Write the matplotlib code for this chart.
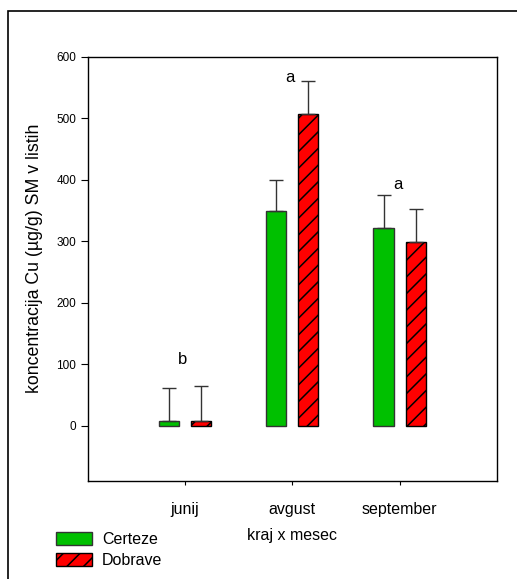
import matplotlib.pyplot as plt
import matplotlib.patches as mpatches
import numpy as np

months = ['junij', 'avgust', 'september']
certeze = [7, 350, 321]
certeze_err = [55, 50, 54]
dobrave = [7, 507, 298]
dobrave_err = [57, 54, 54]
letters = ['b', 'a', 'a']
letter_y = [107, 566, 392]

plt.rcParams['font.family'] = ['Liberation Sans', 'DejaVu Sans']
plt.rcParams['hatch.linewidth'] = 1.1

fig = plt.figure(figsize=(5.17, 5.79), dpi=100)
ax = fig.add_axes([0.170, 0.169, 0.791, 0.733])

# outer frame
fig.patches.append(mpatches.Rectangle((8 / 517, -0.05), 1.1, 1 - 11 / 579 + 0.05,
                                      transform=fig.transFigure, fill=False,
                                      edgecolor='black', linewidth=1.2))

x = np.arange(1, len(months) + 1)
w = 0.187
off = 0.15
ekw = dict(ecolor='#333333', elinewidth=1.0, capsize=5, capthick=1.0)
ax.bar(x - off, certeze, w, color='#00C000', edgecolor='#333333', linewidth=1.0,
       yerr=[np.zeros(3), certeze_err], error_kw=ekw, label='Certeze')
ax.bar(x + off, dobrave, w, color='#FF0000', edgecolor='black', linewidth=1.0,
       hatch='//', yerr=[np.zeros(3), dobrave_err], error_kw=ekw, label='Dobrave')

for xi, t, ty in zip(x, letters, letter_y):
    ax.text(xi - 0.02, ty, t, ha='center', va='center', fontsize=12)

ax.set_xlim(0.093, 3.907)
ax.set_ylim(-90, 600)
ax.set_yticks(range(0, 601, 100))
ax.set_xticks(x)
ax.set_xticklabels(months, fontsize=11.5)
ax.tick_params(axis='y', labelsize=8.5, length=5, width=0.8, direction='out')
ax.tick_params(axis='x', length=3, width=0.8, pad=12)
ax.set_ylabel('koncentracija Cu (µg/g) SM v listih', fontsize=12.8, va='center')
ax.yaxis.set_label_coords(-0.13, 0.526)
ax.set_xlabel('kraj x mesec', fontsize=11.5, labelpad=8)
for s in ax.spines.values():
    s.set_linewidth(1.0)

fig.legend(loc='lower left', bbox_to_anchor=(0.095, 0.008), frameon=False,
           fontsize=11.5, handlelength=2.3, handleheight=0.9, labelspacing=0.35,
           handletextpad=0.6, borderaxespad=0)

fig.savefig('out.png', dpi=100)
